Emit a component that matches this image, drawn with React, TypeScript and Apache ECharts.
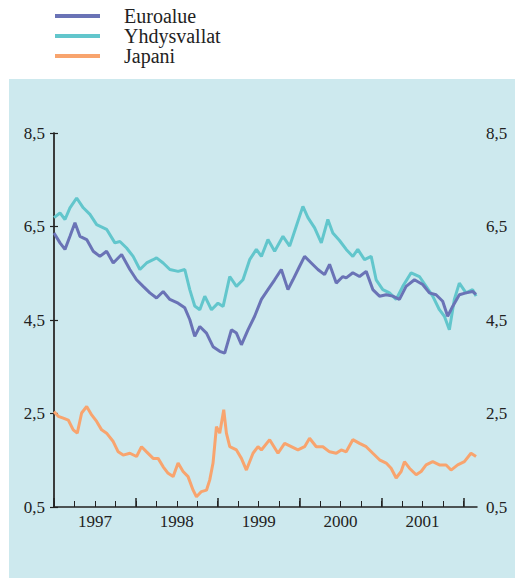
import React, { useEffect, useRef } from "react";
import * as echarts from "echarts";

// ---- data (months counted from January 1997) ----
const seriesNames = ["Euroalue", "Yhdysvallat", "Japani"];
const seriesColors = ["#6a73b6", "#62c6cc", "#f8a46e"];
const yearLabels = ["1997", "1998", "1999", "2000", "2001"];
const yearLabelMonths = [6, 18, 30, 42, 54];
const yearTickMonths = [0, 12, 24, 36, 48, 60];
const quarterTickMonths = [0, 3, 6, 9, 12, 15, 18, 21, 24, 27, 30, 33, 36, 39, 42, 45, 48, 51, 54, 57, 60];
const yTickValues = [0.5, 2.5, 4.5, 6.5, 8.5];

const euroMonths = [0, 0.88, 1.61, 2.34, 3.07, 3.8, 4.79, 5.75, 6.73, 7.71, 8.68, 9.91, 11.12, 12.1, 13.07, 14.05, 15.03, 16.0, 16.98, 18.19, 19.17, 19.9, 20.63, 21.37, 22.35, 23.31, 24.29, 25.02, 26.0, 26.74, 27.47, 28.43, 29.41, 30.4, 31.36, 32.34, 33.32, 34.29, 35.02, 36.0, 36.73, 37.71, 38.68, 39.66, 40.39, 41.37, 42.34, 42.83, 43.8, 44.78, 45.76, 46.73, 47.71, 48.69, 49.65, 50.63, 51.61, 52.83, 54.04, 55.02, 56.0, 56.97, 57.7, 58.43, 59.41, 60.39, 61.36, 61.86];
const euroValues = [6.36, 6.15, 6.01, 6.29, 6.58, 6.29, 6.22, 5.97, 5.86, 5.97, 5.72, 5.9, 5.58, 5.36, 5.22, 5.08, 4.97, 5.11, 4.94, 4.86, 4.76, 4.51, 4.15, 4.36, 4.22, 3.93, 3.83, 3.79, 4.29, 4.22, 3.97, 4.29, 4.58, 4.94, 5.15, 5.36, 5.58, 5.15, 5.36, 5.65, 5.86, 5.72, 5.58, 5.47, 5.69, 5.29, 5.43, 5.4, 5.51, 5.43, 5.54, 5.15, 5.01, 5.04, 5.01, 4.94, 5.22, 5.36, 5.26, 5.08, 5.04, 4.9, 4.58, 4.79, 5.04, 5.08, 5.11, 5.05];

const usMonths = [0, 0.88, 1.61, 2.34, 3.32, 4.29, 5.27, 6.25, 7.71, 8.93, 9.66, 10.64, 11.6, 12.59, 13.57, 14.53, 15.03, 16.0, 16.98, 18.19, 19.17, 19.9, 20.63, 21.37, 22.1, 23.08, 24.04, 24.79, 25.76, 26.74, 27.7, 28.68, 29.66, 30.4, 31.36, 32.34, 33.56, 34.54, 35.52, 36.48, 37.22, 38.2, 39.18, 40.14, 40.87, 41.85, 42.83, 43.8, 44.53, 45.51, 46.49, 47.22, 48.19, 49.17, 50.15, 51.12, 52.35, 53.56, 54.54, 55.51, 56.49, 57.22, 57.95, 58.68, 59.41, 60.39, 61.36, 61.86];
const usValues = [6.69, 6.79, 6.65, 6.9, 7.11, 6.9, 6.76, 6.54, 6.44, 6.15, 6.18, 6.04, 5.86, 5.58, 5.72, 5.79, 5.83, 5.72, 5.58, 5.54, 5.58, 5.15, 4.8, 4.72, 5.01, 4.72, 4.86, 4.79, 5.43, 5.22, 5.36, 5.79, 6.01, 5.86, 6.22, 5.97, 6.29, 6.08, 6.51, 6.93, 6.69, 6.47, 6.15, 6.65, 6.36, 6.2, 6.01, 5.86, 6.01, 5.79, 5.86, 5.36, 5.15, 5.08, 4.94, 5.22, 5.51, 5.43, 5.22, 5.01, 4.72, 4.58, 4.29, 4.94, 5.29, 5.08, 5.15, 5.01];

const japanMonths = [0, 0.63, 1.36, 2.09, 2.82, 3.41, 4.05, 4.79, 5.52, 6.25, 6.98, 7.71, 8.68, 9.41, 10.14, 11.12, 12.1, 12.83, 13.57, 14.53, 15.26, 16.0, 16.73, 17.46, 18.19, 18.92, 19.65, 20.39, 20.88, 21.61, 22.35, 22.83, 23.31, 23.81, 24.29, 24.88, 25.27, 25.76, 26.74, 27.47, 28.2, 29.17, 29.9, 30.4, 31.61, 32.83, 33.8, 34.78, 35.75, 36.73, 37.46, 38.44, 39.41, 40.39, 41.37, 42.1, 42.83, 43.8, 44.78, 45.76, 46.73, 47.71, 48.69, 49.41, 50.15, 50.88, 51.37, 52.1, 53.08, 53.81, 54.54, 55.51, 56.49, 57.47, 58.2, 59.17, 60.15, 61.12, 61.86];
const japanValues = [2.54, 2.44, 2.4, 2.36, 2.15, 2.08, 2.51, 2.65, 2.47, 2.33, 2.15, 2.08, 1.9, 1.68, 1.61, 1.65, 1.58, 1.79, 1.68, 1.54, 1.54, 1.36, 1.22, 1.15, 1.44, 1.26, 1.15, 0.86, 0.72, 0.83, 0.86, 1.08, 1.44, 2.22, 2.08, 2.58, 2.08, 1.79, 1.72, 1.54, 1.29, 1.65, 1.79, 1.72, 1.94, 1.65, 1.86, 1.79, 1.72, 1.79, 1.97, 1.79, 1.79, 1.68, 1.65, 1.72, 1.68, 1.94, 1.86, 1.79, 1.65, 1.51, 1.44, 1.33, 1.12, 1.26, 1.47, 1.33, 1.19, 1.26, 1.4, 1.47, 1.4, 1.4, 1.29, 1.4, 1.47, 1.65, 1.58];

const xMax = 62;
const yMin = 0.5;
const yMax = 8.5;
const FONT = "Liberation Serif";

const pair = (xs: number[], ys: number[]) => xs.map((x, i) => [x, ys[i]]);

export default function App() {
  const ref = useRef<HTMLDivElement>(null);
  useEffect(() => {
    const chart = echarts.init(ref.current!, null, { renderer: "svg" });
    const fmtY = (v: number) => v.toFixed(1).replace(".", ",");
    const yAxisBase = (position: "left" | "right", lineColor: string) => ({
      type: "value",
      position,
      min: yMin,
      max: yMax,
      axisLine: { show: true, lineStyle: { color: lineColor, width: 1.5 } },
      axisTick: {
        show: true,
        inside: true,
        length: 4,
        customValues: yTickValues,
        lineStyle: { color: "#222", width: 1.2 },
      },
      axisLabel: {
        show: true,
        customValues: yTickValues,
        formatter: fmtY,
        fontFamily: FONT,
        fontSize: 17,
        color: "#222",
        margin: 9,
      },
      splitLine: { show: false },
    });
    const dataSets = [pair(euroMonths, euroValues), pair(usMonths, usValues), pair(japanMonths, japanValues)];
    chart.setOption({
      animation: false,
      graphic: [
        {
          type: "rect",
          shape: { x: 9, y: 79, width: 506, height: 499 },
          style: { fill: "#cde9ee" },
          z: -10,
          silent: true,
        },
      ],
      legend: {
        orient: "vertical",
        left: 55,
        top: 6,
        padding: 0,
        itemGap: 0,
        icon: "rect",
        itemWidth: 45,
        itemHeight: 4,
        data: seriesNames,
        textStyle: {
          fontFamily: FONT,
          fontSize: 20,
          lineHeight: 20,
          color: "#222",
          padding: [0, 0, 0, 19],
        },
      },
      grid: { left: 54, right: 38, top: 133, bottom: 71 },
      xAxis: [
        {
          type: "value",
          position: "bottom",
          min: 0,
          max: xMax,
          axisLine: { show: true, lineStyle: { color: "#222", width: 1.5 } },
          axisTick: {
            show: true,
            inside: true,
            length: 9,
            customValues: yearTickMonths,
            lineStyle: { color: "#222", width: 1.5 },
          },
          axisLabel: { show: false },
          splitLine: { show: false },
        },
        {
          type: "value",
          position: "bottom",
          min: 0,
          max: xMax,
          axisLine: { show: false },
          axisTick: {
            show: true,
            inside: true,
            length: 6,
            customValues: quarterTickMonths,
            lineStyle: { color: "#222", width: 1 },
          },
          axisLabel: {
            show: true,
            customValues: yearLabelMonths,
            formatter: (v: number) => {
              const i = yearLabelMonths.indexOf(v);
              return i >= 0 ? yearLabels[i] : "";
            },
            fontFamily: FONT,
            fontSize: 17,
            color: "#222",
            margin: 6,
          },
          splitLine: { show: false },
        },
      ],
      yAxis: [yAxisBase("left", "#6a6a6a"), yAxisBase("right", "#222")],
      series: seriesNames.map((name, i) => ({
        name,
        type: "line",
        xAxisIndex: 0,
        yAxisIndex: 0,
        data: dataSets[i],
        showSymbol: false,
        symbol: "none",
        color: seriesColors[i],
        lineStyle: { color: seriesColors[i], width: 3 },
        z: i === 0 ? 4 : 3,
      })),
    });
    return () => chart.dispose();
  }, []);
  return (
    <div
      ref={ref}
      style={{ position: "absolute", left: 0, top: 0, width: 515, height: 578 }}
    />
  );
}
